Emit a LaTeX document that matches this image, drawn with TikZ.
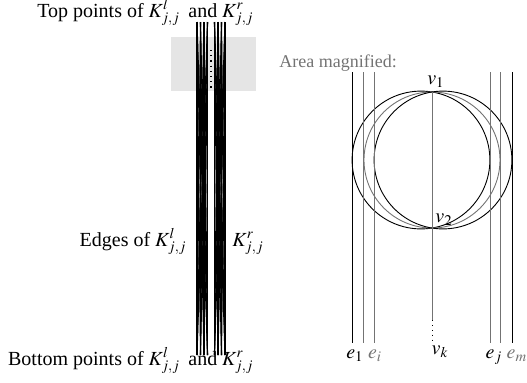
\documentclass[tikz,border=0pt]{standalone}
\usepackage{mathptmx}
\usepackage{fontspec}
\setmainfont{Liberation Serif}
\usepackage{xcolor}
\definecolor{Wire}{gray}{0.45}
\definecolor{Zone}{gray}{0.9}
\tikzset{
  txt/.style={inner sep=0pt,font=\normalsize},
  kedge/.style={line width=0.55pt},
  wire/.style={line width=0.45pt}
}

\begin{document}
\begin{tikzpicture}[x=0.5pt,y=-0.5pt]
\useasboundingbox (0,0) rectangle (527,382);
% left: the two bundles
\fill[Zone] (171,37) rectangle (256,91);
\foreach \i/\x in {1/197,2/200.5,3/204,4/207.5}{
  \coordinate (tl\i) at (\x,22);
  \coordinate (bl\i) at (\x,355);}
\foreach \i/\x in {1/214.5,2/218,3/221.5,4/225}{
  \coordinate (tr\i) at (\x,22);
  \coordinate (br\i) at (\x,355);}
\foreach \i in {1,...,4}{
  \foreach \k in {1,...,4}{
    \draw[kedge] (tl\i) -- (bl\k);
    \draw[kedge] (tr\i) -- (br\k);}}
\coordinate (dtop) at (211,50);
\coordinate (dbot) at (211,90);
\draw[dotted,line width=0.6pt] (dtop) -- (dbot);
\node[txt,anchor=base east] (toplbl) at (254,17) {Top points of $K^l_{j,j}$\, and $K^r_{j,j}$};
\node[txt,anchor=base east] (edgelbl) at (187,246) {Edges of $K^l_{j,j}$};
\node[txt,anchor=base west] (krlbl) at (232,246) {$K^r_{j,j}$};
\node[txt,anchor=base east] (botlbl) at (254,365) {Bottom points of $K^l_{j,j}$\, and $K^r_{j,j}$};
% right: area magnified
\node[txt,anchor=base west,text=Wire,font=\small] (arealbl) at (279,67) {Area magnified:};
\coordinate (v1) at (432,92);
\coordinate (v2) at (432,228);
\coordinate (vdots) at (432,320);
\coordinate (vend) at (432,344);
\draw[wire] (421,160) circle[radius=68.9];
\draw[wire,Wire] (432,160) circle[radius=68];
\draw[wire] (443,160) circle[radius=68.9];
\foreach \n/\x/\c in {1/352/black,2/363.5/Wire,3/374/Wire,4/490/Wire,5/500.5/Wire,6/512/black}{
  \coordinate (ltop\n) at (\x,72);
  \coordinate (lbot\n) at (\x,343);
  \draw[wire,\c] (ltop\n) -- (lbot\n);}
\draw[wire,Wire] (v1) -- (vdots);
\draw[wire,dotted] (vdots) -- (vend);
\node[txt,anchor=base] (v1lbl) at (436,84) {$v_1$};
\node[txt,anchor=base west] (v2lbl) at (435,222) {$v_2$};
\node[txt,anchor=north] (vklbl) at (440,345) {$v_k$};
\node[txt,anchor=north] (e1lbl) at (355,349) {$e_1$};
\node[txt,anchor=north,text=Wire] (eilbl) at (375,349) {$e_i$};
\node[txt,anchor=north] (ejlbl) at (494,349) {$e_j$};
\node[txt,anchor=north,text=Wire] (emlbl) at (517,349) {$e_m$};
\end{tikzpicture}
\end{document}
